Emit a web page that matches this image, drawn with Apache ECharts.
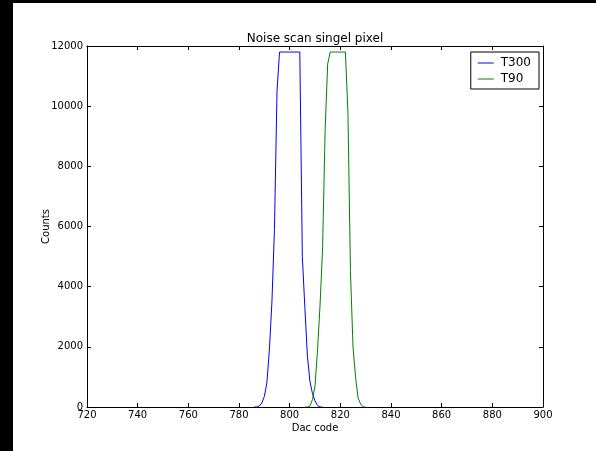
<!DOCTYPE html>
<html>
<head>
<meta charset="utf-8">
<script src="https://cdn.jsdelivr.net/npm/echarts@6/dist/echarts.min.js"></script>
<style>
  html, body { margin: 0; padding: 0; background: #fff; }
  #chart { width: 596px; height: 451px; }
</style>
</head>
<body>
<div id="chart"></div>
<script>
// Noise scan of a single pixel: hit counts per DAC code at two temperatures
const t300Dac    = [786, 787, 788, 789, 790, 791, 792, 793, 794, 795, 796, 797, 798, 799, 800, 801, 802, 803, 804, 805, 806, 807, 808, 809, 810, 811, 812, 813];
const t300Counts = [0, 0, 30, 130, 350, 800, 1900, 3500, 5900, 10500, 11800, 11800, 11800, 11800, 11800, 11800, 11800, 11800, 11800, 5000, 3300, 1700, 850, 450, 200, 50, 0, 0];

const t90Dac     = [806, 807, 808, 809, 810, 811, 812, 813, 814, 815, 816, 817, 818, 819, 820, 821, 822, 823, 824, 825, 826, 827, 828, 829, 830];
const t90Counts  = [0, 0, 30, 250, 700, 1900, 3400, 5300, 9200, 11400, 11800, 11800, 11800, 11800, 11800, 11800, 11800, 9800, 4500, 2000, 1000, 300, 100, 0, 0];

const xTicks = { min: 720, max: 900, step: 20 };
const yTicks = { min: 0, max: 12000, step: 2000 };

const FONT = 'DejaVu Sans';
const pairs = (xs, ys) => xs.map((x, i) => [x, ys[i]]);

const chart = echarts.init(document.getElementById('chart'), null, { renderer: 'canvas' });

const grid = { left: 87, right: 53, top: 46, bottom: 44 };

const baseX = {
  type: 'value',
  min: xTicks.min, max: xTicks.max, interval: xTicks.step,
  axisLine: { show: true, onZero: false, lineStyle: { color: '#000', width: 1 } },
  axisTick: { show: true, inside: true, length: 4, lineStyle: { color: '#000' } },
  splitLine: { show: false }
};
const baseY = {
  type: 'value',
  min: yTicks.min, max: yTicks.max, interval: yTicks.step,
  axisLine: { show: true, onZero: false, lineStyle: { color: '#000', width: 1 } },
  axisTick: { show: true, inside: true, length: 4, lineStyle: { color: '#000' } },
  splitLine: { show: false }
};

chart.setOption({
  animation: false,
  backgroundColor: '#fff',
  title: {
    text: 'Noise scan singel pixel',
    left: 315, textAlign: 'center', top: 33, padding: 0,
    textStyle: { fontFamily: FONT, fontSize: 12, fontWeight: 'normal', color: '#000' }
  },
  legend: {
    orient: 'vertical',
    right: 57, top: 52,
    backgroundColor: '#fff',
    borderColor: '#000', borderWidth: 1, borderRadius: 0,
    padding: [5, 8, 4, 7],
    itemGap: 4,
    itemWidth: 16, itemHeight: 1,
    icon: 'rect',
    textStyle: { fontFamily: FONT, fontSize: 12, color: '#000', padding: [0, 0, 0, 2] },
    data: ['T300', 'T90']
  },
  grid: grid,
  xAxis: [
    Object.assign({}, baseX, {
      position: 'bottom',
      name: 'Dac code', nameLocation: 'middle', nameGap: 16, nameMoveOverlap: false,
      nameTextStyle: { fontFamily: FONT, fontSize: 10, color: '#000' },
      axisLabel: { fontFamily: FONT, fontSize: 10, color: '#000', margin: 3 }
    }),
    Object.assign({}, baseX, { position: 'top', axisLabel: { show: false } })
  ],
  yAxis: [
    Object.assign({}, baseY, {
      position: 'left',
      name: 'Counts', nameLocation: 'middle', nameGap: 36, nameMoveOverlap: false,
      nameTextStyle: { fontFamily: FONT, fontSize: 10, color: '#000' },
      axisLabel: { fontFamily: FONT, fontSize: 10, color: '#000', margin: 4, formatter: v => String(v) }
    }),
    Object.assign({}, baseY, { position: 'right', axisLabel: { show: false } })
  ],
  series: [
    {
      name: 'T300', type: 'line', xAxisIndex: 0, yAxisIndex: 0,
      data: pairs(t300Dac, t300Counts),
      showSymbol: false, symbol: 'none',
      color: '#0000ff',
      lineStyle: { color: '#0000ff', width: 1 }
    },
    {
      name: 'T90', type: 'line', xAxisIndex: 0, yAxisIndex: 0,
      data: pairs(t90Dac, t90Counts),
      showSymbol: false, symbol: 'none',
      color: '#008000',
      lineStyle: { color: '#008000', width: 1 }
    }
  ],
  graphic: [
    { type: 'rect', left: 0, top: 0, shape: { width: 13, height: 451 }, style: { fill: '#000' }, z: 100 },
    { type: 'rect', left: 0, top: 0, shape: { width: 596, height: 3 }, style: { fill: '#000' }, z: 100 }
  ]
});
</script>
</body>
</html>
